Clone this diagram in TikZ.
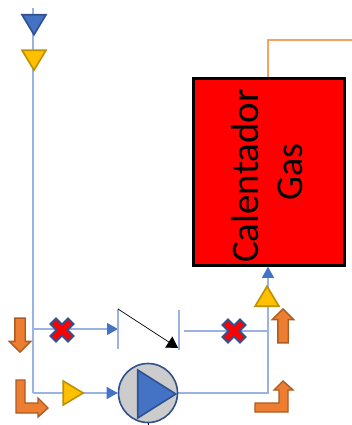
\documentclass[tikz,border=0pt]{standalone}
\usepackage{fontspec}
\setmainfont{Carlito}
\usetikzlibrary{positioning}
\usetikzlibrary{shapes.geometric,shapes.arrows,arrows.meta}
\usetikzlibrary{backgrounds}
\definecolor{pipeblue}{HTML}{9AB3E2}
\definecolor{tipblue}{HTML}{4472C4}
\definecolor{darkblue}{HTML}{2F528F}
\definecolor{valveyellow}{HTML}{FFC000}
\definecolor{darkyellow}{HTML}{BF9000}
\definecolor{flowyellow}{HTML}{ED7D31}
\definecolor{darkorange}{HTML}{AE5A21}
\definecolor{gasorange}{HTML}{F4A460}
\tikzset{
  tri/.style={isosceles triangle,isosceles triangle stretches,inner sep=0pt,outer sep=0pt,
    minimum height=20pt,minimum width=24pt,line width=1.6pt},
  yellowtri/.style={tri,fill=valveyellow,draw=darkyellow},
  bluetri/.style={tri,fill=tipblue,draw=darkblue},
  flowarrow/.style={single arrow,single arrow head extend=5.5pt,inner sep=0pt,outer sep=0pt,
    minimum width=20pt,minimum height=34pt,fill=flowyellow,draw=darkorange,line width=1.4pt},
  flowbent/.style={fill=flowyellow,draw=darkorange,line width=1.4pt},
  pipe/.style={draw=pipeblue,line width=1.2pt},
  pipetip/.style={pipe,-{Triangle[length=11pt,width=12pt,color=tipblue]}},
  xmark/.pic={
    \draw[fill=red,draw=darkblue,line width=2pt]
      (-6,-11.5) -- (0,-5.5) -- (6,-11.5) -- (11.5,-6) -- (5.5,0) -- (11.5,6) -- (6,11.5)
      -- (0,5.5) -- (-6,11.5) -- (-11.5,6) -- (-5.5,0) -- (-11.5,-6) -- cycle;
  },
}
\begin{document}
\begin{tikzpicture}[x=1pt,y=-1pt]
  \useasboundingbox (0,0) rectangle (352,425);

  \node[draw=black,fill=red,line width=2.6pt,minimum width=151pt,minimum height=187pt,inner sep=0pt]
    (heater) at (269,172) {};
  \node[rotate=90,font=\fontsize{39}{39}\selectfont] (heatername) at (245,176) {Calentador};
  \node[rotate=90,font=\fontsize{38}{38}\selectfont] (heatergas) at (290,172) {Gas};

  \node[bluetri,rotate=-90] (supply) at (34,21.5) {};
  \node[yellowtri,rotate=-90] (checktop) at (34,57) {};
  \node[yellowtri] (checkpump) at (70,393) {};
  \node[yellowtri,rotate=90] (checkout) at (267,299.5) {};

  \node[circle,draw=darkblue,fill=black!20,line width=1.6pt,minimum size=59pt,inner sep=0pt]
    (pump) at (148,393) {};
  \node[tri,fill=tipblue,draw=darkblue,minimum height=38pt,minimum width=48pt] (pumptri) at (151,394) {};

  \coordinate (top) at (33,8);
  \coordinate (tee) at (33,329);
  \coordinate (corner) at (33,393);
  \coordinate (valvein) at (118,329);
  \coordinate (valvetop) at (118,309);
  \coordinate (valvebot) at (118,349);
  \coordinate (seattop) at (179,310);
  \coordinate (seatbot) at (179,350);
  \coordinate (seat) at (178,348);
  \coordinate (valveout) at (184,331);
  \coordinate (riser) at (268,331);
  \coordinate (riserbot) at (268,393);
  \coordinate (gasup) at (268,40);
  \coordinate (gasend) at (352,40);

  \begin{pgfonlayer}{background}
    \draw[pipe] (top) -- (corner);
    \draw[pipetip] (corner) -- (pump.west);
    \draw[pipetip] (tee) -- (valvein);
    \draw[pipe] (valveout) -- (riser);
    \draw[pipe] (pump.east) -- (riserbot) -- (riser);
    \draw[pipetip] (riser) -- (heater.south -| riser);
    \draw[draw=gasorange,line width=1.2pt] (heater.north -| gasup) -- (gasup) -- (gasend);
  \end{pgfonlayer}

  % valve seat and flap
  \draw[pipe] (valvetop) -- (valvebot);
  \draw[pipe] (seattop) -- (seatbot);
  \draw[-{Triangle[length=11pt,width=13pt]},line width=0.7pt] (valvetop) -- (seat);

  \draw[black,line width=0.8pt] (pump.south) -- ++(0,3);

  \pic at (62,330) {xmark};
  \pic at (234,331) {xmark};

  % flow marks
  \node[flowarrow,rotate=-90] (flowdown) at (20,332.5) {\rule{0pt}{9pt}};
  \node[flowarrow,rotate=90] (flowup) at (283,328.5) {\rule{0pt}{9pt}};
  \draw[flowbent] (16,380) -- (25,380) -- (25,403) -- (38,403) -- (38,398) -- (48,408)
    -- (38,417) -- (38,413) -- (16,413) -- cycle;
  \draw[flowbent] (255,403) -- (279,403) -- (279,390) -- (274,390) -- (283,381) -- (293,390)
    -- (288,390) -- (288,412) -- (255,412) -- cycle;
\end{tikzpicture}
\end{document}
